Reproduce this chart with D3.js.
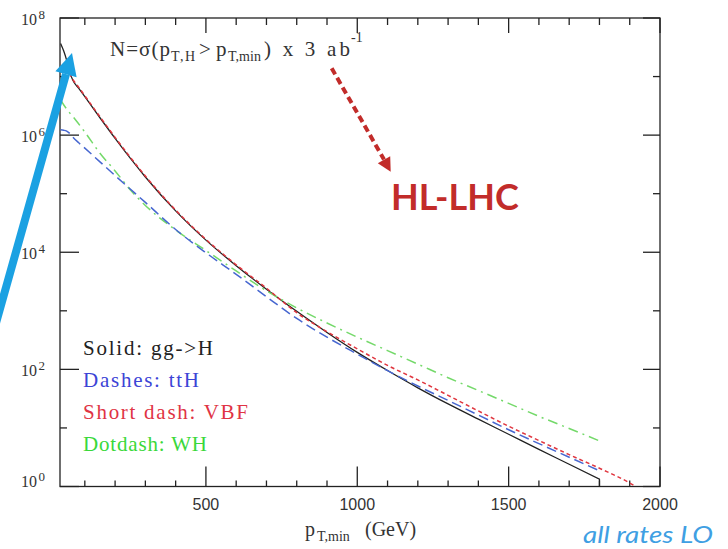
<!DOCTYPE html>
<html>
<head>
<meta charset="utf-8">
<script src="https://cdn.jsdelivr.net/npm/d3@7"></script>
<style>
  body { margin: 0; background: #fff; }
  svg { display: block; }
</style>
</head>
<body>
<svg id="chart" width="728" height="549"></svg>
<script>
// Integrated event counts N = sigma(pT,H > pT,min) x 3 ab^-1, per production channel
const pTmin = [20, 30, 40, 50, 60, 80, 100, 150, 200, 250, 300, 400, 500, 600, 700, 800, 900, 1000,
               1100, 1200, 1300, 1400, 1500, 1600, 1700, 1800, 1900, 1920];
const ggH = [3.67e7, 2.75e7, 1.9e7, 1.2e7, 8.7e6, 6.3e6, 4.53e6, 1.98e6, 8.8e5, 4.04e5, 1.93e5, 5.08e4,
             1.61e4, 5.9e3, 2.34e3, 9.8e2, 4.27e2, 1.95e2, 95.5, 48.4, 25.7, 14.1, 7.8, 4.3, 2.4, 1.33,
             null, null];
const ggHEndValue = 1;   // last histogram bin closes down to the axis at 1800 GeV
const ttH = [1.23e6, 1.21e6, 1.17e6, 1.07e6, 9.3e5, 7.4e5, 6.0e5, 3.5e5, 2.04e5, 1.2e5, 7.1e4, 2.45e4,
             9.8e3, 4.2e3, 1.74e3, 7.4e2, 3.55e2, 1.82e2, 95, 52, 29.5, 16.6, 9.3, 5.4, 3.16, 1.86,
             null, null];
const VBF = [null, 1.35e7, 1.2e7, 1.1e7, 9.0e6, 6.55e6, 4.7e6, 2.06e6, 9.15e5, 4.2e5, 2.0e5, 5.25e4,
             1.66e4, 6.1e3, 2.43e3, 9.3e2, 4.4e2, 2.24e2, 117, 66, 36, 19.5, 10.7, 6.1, 3.5, 2.05,
             1.15, 1.0];
const WH = [4.0e6, 3.3e6, 2.8e6, 2.4e6, 2.1e6, 1.55e6, 1.13e6, 4.9e5, 2.45e5, 1.17e5, 6.3e4, 2.4e4,
            1.07e4, 4.8e3, 2.2e3, 1.12e3, 6.2e2, 3.55e2, 2.09e2, 1.23e2, 72, 43.6, 26.3, 15.8, 9.8, 6.0,
            null, null];

const xMajorTicks = [500, 1000, 1500, 2000];
const xMinorTicks = [100, 200, 300, 400, 600, 700, 800, 900, 1100, 1200, 1300, 1400, 1600, 1700, 1800, 1900];
const yMajorExponents = [0, 2, 4, 6, 8];
const yMinorExponents = [1, 3, 5, 7];
const legendLabels = ["Solid: gg->H", "Dashes: ttH", "Short dash: VBF", "Dotdash: WH"];

const svg = d3.select("#chart");
const plotLeft = 60, plotRight = 660, plotTop = 18, plotBottom = 486.5;

const x = d3.scaleLinear().domain([18, 2000]).range([plotLeft, plotRight]);
const y = d3.scaleLog().domain([1, 1e8]).range([plotBottom, plotTop]);

svg.append("rect").attr("width", 728).attr("height", 549).attr("fill", "#fff");

svg.append("defs").append("clipPath").attr("id", "plotArea")
  .append("rect").attr("x", plotLeft).attr("y", plotTop - 2)
  .attr("width", plotRight - plotLeft).attr("height", plotBottom - plotTop + 2);

const axisColor = "#222";
const axisG = svg.append("g").attr("stroke", axisColor).attr("stroke-width", 1.3);

// frame
axisG.append("rect").attr("x", plotLeft).attr("y", plotTop)
  .attr("width", plotRight - plotLeft).attr("height", plotBottom - plotTop).attr("fill", "none");

// inward ticks on all four sides
const tick = (x1, y1, x2, y2) => axisG.append("line")
  .attr("x1", x1).attr("y1", y1).attr("x2", x2).attr("y2", y2);

xMajorTicks.forEach(v => { tick(x(v), plotBottom, x(v), plotBottom - 20); tick(x(v), plotTop, x(v), plotTop + 15); });
xMinorTicks.forEach(v => { tick(x(v), plotBottom, x(v), plotBottom - 6); tick(x(v), plotTop, x(v), plotTop + 7); });
yMajorExponents.forEach(e => {
  const yy = y(Math.pow(10, e));
  tick(plotLeft, yy, plotLeft + 19, yy); tick(plotRight, yy, plotRight - 17, yy);
});
yMinorExponents.forEach(e => {
  const yy = y(Math.pow(10, e));
  tick(plotLeft, yy, plotLeft + 7, yy); tick(plotRight, yy, plotRight - 7, yy);
});

// x tick labels
svg.append("g").selectAll("text").data(xMajorTicks).join("text")
  .attr("x", d => x(d)).attr("y", 510)
  .attr("text-anchor", "middle")
  .attr("font-family", "Liberation Sans, Arial, sans-serif")
  .attr("font-size", 16).attr("fill", "#333")
  .text(d => d);

// y tick labels: 10^n
const serif = "Liberation Serif, Times New Roman, serif";
const yLab = svg.append("g").attr("font-family", serif).attr("fill", "#333");
yMajorExponents.forEach(e => {
  const base = Math.min(y(Math.pow(10, e)) + 7, plotBottom);
  yLab.append("text").attr("x", 21).attr("y", base).attr("font-size", 16).text("10");
  yLab.append("text").attr("x", 38.5).attr("y", base - 6).attr("font-size", 13).text(e);
});

// x axis title
const xt = svg.append("g").attr("font-family", serif).attr("fill", "#333");
xt.append("text").attr("x", 305).attr("y", 536).attr("font-size", 20).text("p");
xt.append("text").attr("x", 317).attr("y", 541).attr("font-size", 14).text("T,min");
xt.append("text").attr("x", 365).attr("y", 536).attr("font-size", 20).text("(GeV)");

// curves
const plot = svg.append("g").attr("clip-path", "url(#plotArea)");
const line = d3.line()
  .x(d => x(d[0])).y(d => y(d[1]))
  .curve(d3.curveMonotoneX);
const pts = vals => pTmin.map((p, i) => [p, vals[i]]).filter(d => d[1] != null);

const series = [
  { vals: ggH, color: "#222",    dash: null,       w: 1.3 },
  { vals: WH,  color: "#74d96a", dash: "10,5,2,5", w: 1.5 },
  { vals: VBF, color: "#e0363f", dash: "4,3",      w: 1.5 },
  { vals: ttH, color: "#4767d0", dash: "10,5",     w: 1.5 }
];
series.forEach((s, i) => {
  const data = pts(s.vals);
  let d = line(data);
  if (i === 0) {
    const last = data[data.length - 1];
    d += "L" + x(last[0]) + "," + y(ggHEndValue);
  }
  plot.append("path").attr("d", d)
    .attr("fill", "none").attr("stroke", s.color)
    .attr("stroke-width", s.w)
    .attr("stroke-dasharray", s.dash);
});

// legend
const legendColors = ["#222", "#3c44d6", "#e03344", "#3ad83a"];
const legendWidths = [130, 116, 165, 124];
svg.append("g").selectAll("text").data(legendLabels).join("text")
  .attr("x", 83).attr("y", (d, i) => 355 + i * 32)
  .attr("font-family", serif).attr("font-size", 21)
  .attr("fill", (d, i) => legendColors[i])
  .attr("textLength", (d, i) => legendWidths[i])
  .attr("lengthAdjust", "spacing")
  .text(d => d);

// title formula
const tt = svg.append("g").attr("font-family", serif).attr("fill", "#333");
const part = (txt, px, py, size, len) => {
  const t = tt.append("text").attr("x", px).attr("y", py).attr("font-size", size).text(txt);
  if (len) t.attr("textLength", len).attr("lengthAdjust", "spacing");
};
part("N=σ(p", 110, 56, 21, 60);
part("T,H", 171, 61, 14, 24);
part(">", 199, 56, 21);
part("p", 216, 56, 21);
part("T,min", 228, 61, 14, 33);
part(") x 3 ab", 264, 56, 21, 86);
part("-1", 351, 42, 14);

// HL-LHC annotation with dotted arrow
const hlRed = "#c22c2a";
svg.append("line")
  .attr("x1", 331.7).attr("y1", 68.3).attr("x2", 384).attr("y2", 159.5)
  .attr("stroke", hlRed).attr("stroke-width", 4).attr("stroke-dasharray", "7,4");
svg.append("polygon")
  .attr("points", "390.7,171.7 377.8,163.2 390.2,156.2")
  .attr("fill", hlRed);
svg.append("text").attr("x", 391).attr("y", 210)
  .attr("font-family", "Lato, Open Sans, sans-serif").attr("font-weight", "bold")
  .attr("font-size", 36).attr("fill", hlRed).text("HL-LHC");

// note in the bottom corner
svg.append("text").attr("x", 583).attr("y", 543)
  .attr("font-family", "Lato, Open Sans, sans-serif").attr("font-style", "italic")
  .attr("font-size", 24).attr("fill", "#3f9fe3")
  .attr("textLength", 130).attr("lengthAdjust", "spacingAndGlyphs")
  .text("all rates LO");

// pointer arrow to the low-pT end
const arrowBlue = "#1ba1e2";
svg.append("line")
  .attr("x1", -6).attr("y1", 330).attr("x2", 66).attr("y2", 74.2)
  .attr("stroke", arrowBlue).attr("stroke-width", 8);
svg.append("polygon")
  .attr("points", "72,53 55.4,71.2 76.6,77.2")
  .attr("fill", arrowBlue);
</script>
</body>
</html>
